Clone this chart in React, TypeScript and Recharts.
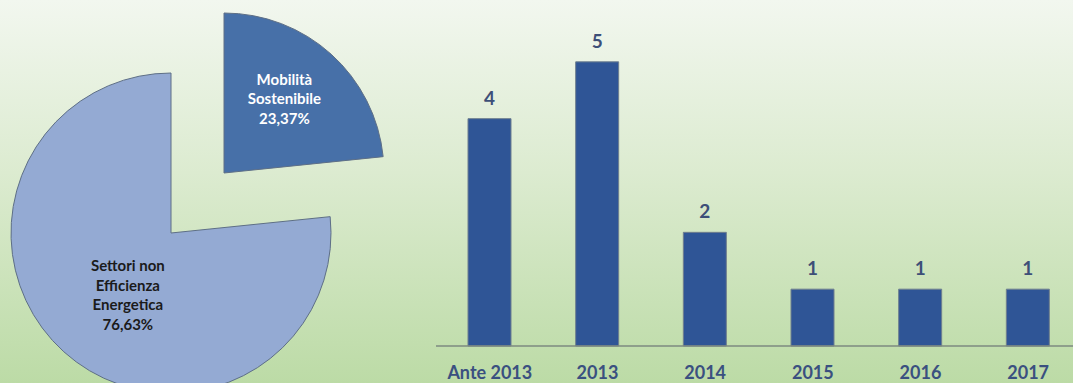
import { PieChart, Pie, Cell, BarChart, Bar, XAxis, YAxis, LabelList } from 'recharts'

const sliceNames = ['Settori non Efficienza Energetica', 'Mobilità Sostenibile']
const sliceLines = [
  ['Settori non', 'Efficienza', 'Energetica', '76,63%'],
  ['Mobilità', 'Sostenibile', '23,37%'],
]
const sliceValues = [76.63, 23.37]

const years = ['Ante 2013', '2013', '2014', '2015', '2016', '2017']
const counts = [4, 5, 2, 1, 1, 1]

const SLICE_FILL = ['#94aad3', '#4770a8']
const SLICE_TEXT = ['#1b1b1b', '#ffffff']
// label placement inside each slice: fraction of radius and angle (deg)
const LABEL_RADIUS = [0.47, 0.6]
const LABEL_ANGLE = [235, 51]
const RAD = Math.PI / 180

const pieData = sliceNames.map((name, i) => ({ name, value: sliceValues[i] }))
const barData = years.map((year, i) => ({ year, count: counts[i] }))

function makeLabel(show: number) {
  return (props: any) => {
    const { cx, cy, outerRadius, index } = props
    if (index !== show) return null
    const r = outerRadius * LABEL_RADIUS[index]
    const a = LABEL_ANGLE[index]
    const x = cx + r * Math.cos(-a * RAD)
    const y = cy + r * Math.sin(-a * RAD)
    const lines = sliceLines[index]
    const lh = 19.5
    const y0 = y - ((lines.length - 1) * lh) / 2
    return (
      <text x={x} y={y0} textAnchor="middle" dominantBaseline="central" fill={SLICE_TEXT[index]}
        style={{ fontFamily: 'Lato, sans-serif', fontWeight: 700, fontSize: 15 }}>
        {lines.map((t, k) => (
          <tspan key={k} x={x} y={y0 + k * lh}>{t}</tspan>
        ))}
      </text>
    )
  }
}

function ExplodedPie({ show, cx, cy }: { show: number; cx: number; cy: number }) {
  return (
    <Pie
      data={pieData}
      dataKey="value"
      cx={cx}
      cy={cy}
      outerRadius={160}
      startAngle={90}
      endAngle={450}
      isAnimationActive={false}
      labelLine={false}
      label={makeLabel(show)}
    >
      {pieData.map((_, i) => (
        <Cell key={i} fill={i === show ? SLICE_FILL[i] : 'transparent'} stroke={i === show ? '#5e6f86' : 'none'} strokeWidth={1} />
      ))}
    </Pie>
  )
}

export default function App() {
  return (
    <div style={{ position: 'fixed', left: 0, top: 0, width: 1073, height: 383, overflow: 'hidden',
      background: 'linear-gradient(to bottom, #f2f7ef 0%, #dcebd0 45%, #bcdba6 100%)' }}>
      <div style={{ position: 'absolute', left: 0, top: 0 }}>
        <PieChart width={430} height={383} margin={{ top: 0, right: 0, bottom: 0, left: 0 }}>
          <ExplodedPie show={0} cx={171} cy={233} />
          <ExplodedPie show={1} cx={224} cy={173} />
        </PieChart>
      </div>
      <div style={{ position: 'absolute', left: 420, top: 0 }}>
        <BarChart width={690} height={383} data={barData} barCategoryGap="30%"
          margin={{ top: 5, right: 28, left: 16, bottom: 0 }}>
          <YAxis hide domain={[0, 6]} />
          <XAxis dataKey="year" height={37} tickLine={false} tickMargin={14}
            axisLine={{ stroke: '#7d8a80', strokeWidth: 1.5 }}
            tick={{ fill: '#3a5080', fontFamily: 'Lato, sans-serif', fontWeight: 700, fontSize: 18 }} />
          <Bar dataKey="count" fill="#2f5596" stroke="#6f7f8f" strokeWidth={1} barSize={43} isAnimationActive={false}>
            <LabelList dataKey="count" position="top" offset={14}
              style={{ fill: '#3d4f78', fontFamily: 'Lato, sans-serif', fontWeight: 700, fontSize: 19 }} />
          </Bar>
        </BarChart>
      </div>
    </div>
  )
}
